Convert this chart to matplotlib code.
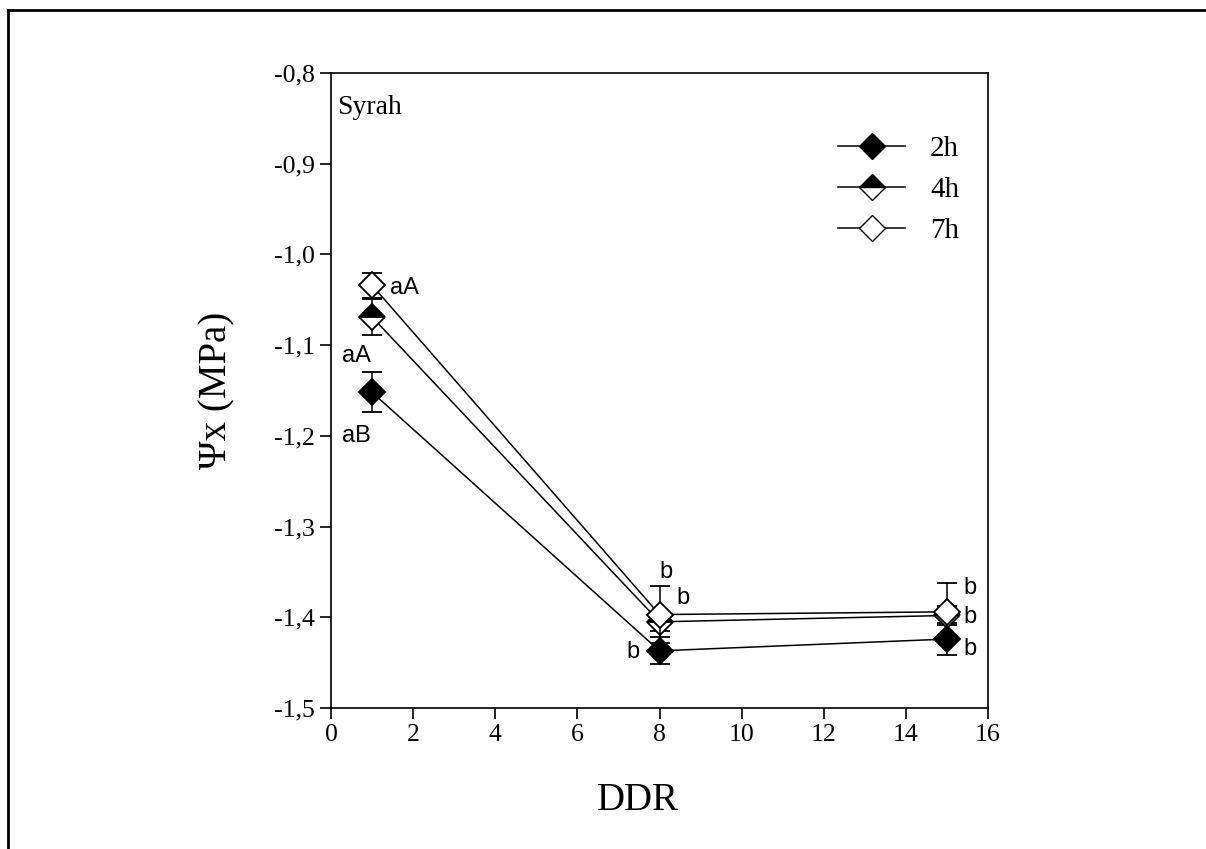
import numpy as np
import matplotlib
matplotlib.use("Agg")
import matplotlib.pyplot as plt
from matplotlib.lines import Line2D
from matplotlib.ticker import FuncFormatter

ddr = [1, 8, 15]
psi_2h = [-1.152, -1.437, -1.424]
err_2h = [0.022, 0.015, 0.018]
psi_4h = [-1.069, -1.405, -1.398]
err_4h = [0.020, 0.010, 0.010]
psi_7h = [-1.034, -1.397, -1.394]
err_7h = [0.014, 0.031, 0.032]

# letters: (text, x, y)
letters = [("aA", 1.80, -1.037), ("aA", 0.63, -1.112), ("aB", 0.63, -1.200),
           ("b", 8.16, -1.350), ("b", 8.57, -1.379), ("b", 7.36, -1.438),
           ("b", 15.55, -1.368), ("b", 15.55, -1.400), ("b", 15.55, -1.435)]

serif = "Liberation Serif"

fig = plt.figure(figsize=(12.06, 8.49), dpi=100)
ax = fig.add_axes([331 / 1206, 1 - 708 / 849, (988 - 331) / 1206, (708 - 73) / 849])

# outer frame (only left and top visible)
fig.add_artist(Line2D([8 / 1206, 8 / 1206], [0, 1 - 10 / 849], transform=fig.transFigure, color="k", lw=2))
fig.add_artist(Line2D([8 / 1206, 1], [1 - 10 / 849, 1 - 10 / 849], transform=fig.transFigure, color="k", lw=2))

ms = 13.5
common = dict(color="k", lw=1.1, marker="D", markersize=ms, markeredgecolor="k",
              markeredgewidth=1.3, capsize=7, elinewidth=1.1, capthick=1.2)
ax.errorbar(ddr, psi_2h, yerr=err_2h, markerfacecolor="k", zorder=3, **common)
ax.errorbar(ddr, psi_4h, yerr=err_4h, markerfacecolor="k", fillstyle="top",
            markerfacecoloralt="white", zorder=4, **common)
ax.errorbar(ddr, psi_7h, yerr=err_7h, markerfacecolor="white", zorder=5, **common)

for txt, x, y in letters:
    ax.text(x, y, txt, ha="center", va="center", fontsize=17, family="Liberation Sans")

ax.set_xlim(0, 16)
ax.set_ylim(-1.5, -0.8)
ax.set_xticks(np.arange(0, 17, 2))
ax.set_yticks(np.arange(-1.5, -0.79, 0.1))
ax.yaxis.set_major_formatter(FuncFormatter(lambda v, p: f"{v:.1f}".replace(".", ",")))
ax.tick_params(direction="out", length=8, width=1.2, labelsize=18.5)
for lab in ax.get_xticklabels() + ax.get_yticklabels():
    lab.set_family(serif)
for s in ax.spines.values():
    s.set_linewidth(1.2)

ax.set_xlabel("DDR", fontsize=28, family=serif)
ax.xaxis.set_label_coords((638 - 331) / 657, -(800 - 708) / 635, transform=ax.transAxes)
ax.xaxis.label.set_va("center")
ax.set_ylabel("Ψx (MPa)", fontsize=28, family=serif, labelpad=28)
ax.text(0.01, 0.965, "Syrah", transform=ax.transAxes, fontsize=20, family=serif, va="top")

handles = [
    Line2D([], [], color="k", lw=1.1, marker="D", ms=ms, mfc="k", mec="k"),
    Line2D([], [], color="k", lw=1.1, marker="D", ms=ms, mfc="k", mec="k", fillstyle="top", markerfacecoloralt="white"),
    Line2D([], [], color="k", lw=1.1, marker="D", ms=ms, mfc="white", mec="k"),
]
leg = ax.legend(handles, ["2h", "4h", "7h"], loc="upper right", bbox_to_anchor=(0.996, 0.942),
                frameon=False, prop={"family": serif, "size": 21}, handlelength=2.3,
                labelspacing=0.5, handletextpad=0.85)

fig.savefig("out.png", dpi=100)
